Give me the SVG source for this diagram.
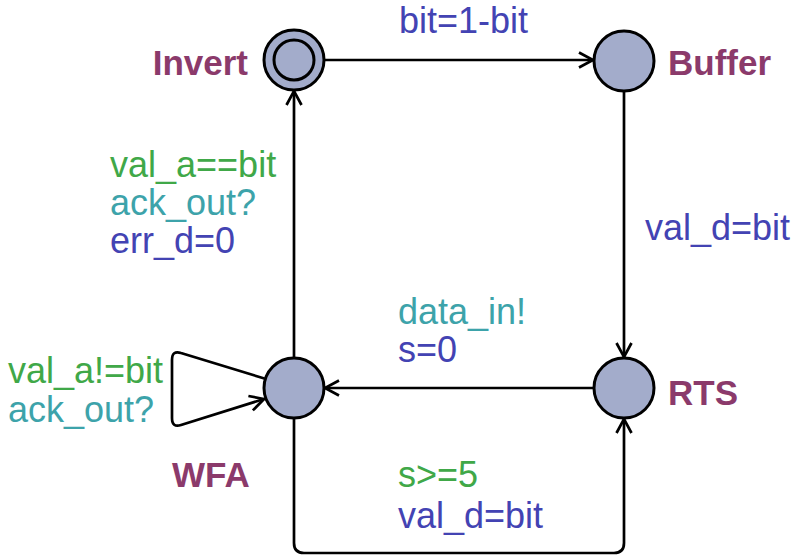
<svg xmlns="http://www.w3.org/2000/svg" width="792" height="556" viewBox="0 0 792 556">
<style>
.loc{fill:#A3ACCB;stroke:#000;stroke-width:3}
.edge{fill:none;stroke:#000;stroke-width:2.7;stroke-linejoin:round}
.name{font-family:"Liberation Sans",Arial,sans-serif;font-weight:bold;font-size:35px;fill:#8B3A6B}
.t{font-family:"Liberation Sans",Arial,sans-serif;font-size:36px}
.g{fill:#40A848}
.s{fill:#3DA3AA}
.a{fill:#4343B3}
</style>
<defs>
<marker id="arr" markerUnits="userSpaceOnUse" markerWidth="22" markerHeight="22" viewBox="-18 -11 22 22" refX="0" refY="0" orient="auto">
<path d="M-14,-7.5 L0,0 L-14,7.5" fill="none" stroke="#000" stroke-width="2.7" stroke-linejoin="miter"/>
</marker>
</defs>
<rect width="792" height="556" fill="#fff"/>
<g id="connectors">
<path class="edge" d="M324,60 L593,60" marker-end="url(#arr)"/>
<path class="edge" d="M624,91 L624,357" marker-end="url(#arr)"/>
<path class="edge" d="M594,388 L325,388" marker-end="url(#arr)"/>
<path class="edge" d="M294,358 L294,91" marker-end="url(#arr)"/>
<path class="edge" d="M294,418 L294,543 Q294,553 304,553 L614,553 Q624,553 624,543 L624,419" marker-end="url(#arr)"/>
<path class="edge" d="M266,379 L181,353 Q172,350 172,360 L172,418 Q172,428 181,425 L264,399" marker-end="url(#arr)"/>
</g>
<g id="edge-labels">
<text class="t a" x="399" y="33">bit=1-bit</text>
<text class="t a" x="645" y="240">val_d=bit</text>
<text class="t g" x="110" y="177">val_a==bit</text>
<text class="t s" x="110" y="215">ack_out?</text>
<text class="t a" x="110" y="253">err_d=0</text>
<text class="t s" x="398" y="324">data_in!</text>
<text class="t a" x="398" y="362">s=0</text>
<text class="t g" x="8" y="383">val_a!=bit</text>
<text class="t s" x="8" y="422">ack_out?</text>
<text class="t g" x="398" y="487">s&gt;=5</text>
<text class="t a" x="398" y="528">val_d=bit</text>
</g>
<g id="Invert">
<circle class="loc" cx="294" cy="60" r="30"/>
<circle class="loc" cx="294" cy="60" r="20"/>
<text class="name" x="248" y="75" text-anchor="end">Invert</text>
</g>
<g id="Buffer">
<circle class="loc" cx="624" cy="61" r="30"/>
<text class="name" x="668" y="75">Buffer</text>
</g>
<g id="RTS">
<circle class="loc" cx="624" cy="388" r="30"/>
<text class="name" x="668" y="405">RTS</text>
</g>
<g id="WFA">
<circle class="loc" cx="294" cy="388" r="30"/>
<text class="name" x="172" y="487">WFA</text>
</g>
</svg>
